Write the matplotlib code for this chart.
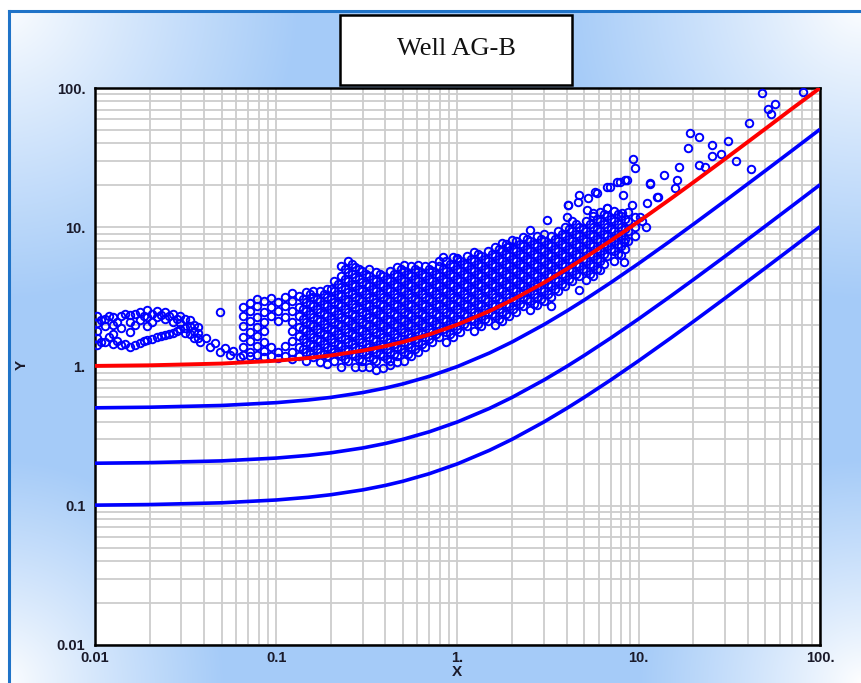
import numpy as np
import matplotlib
matplotlib.use("Agg")
import matplotlib.pyplot as plt
from matplotlib.patches import Rectangle
from matplotlib.lines import Line2D
from matplotlib.ticker import LogLocator, FixedLocator, FixedFormatter, NullFormatter

# ---------------- data ----------------
title = "Well AG-B"
x_label = "X"
y_label = "Y"
tick_values = [0.01, 0.1, 1, 10, 100]
tick_labels = ["0.01", "0.1", "1.", "10.", "100."]

# model curves
curve_x = [0.01, 0.02, 0.05, 0.1, 0.15, 0.2, 0.3, 0.4, 0.5, 0.7, 1, 1.5, 2, 3, 4, 5, 7, 10,
           15, 20, 30, 50, 70, 100]
red_y = [1.01, 1.02, 1.05, 1.1, 1.15, 1.2, 1.3, 1.4, 1.5, 1.7, 2.0, 2.5, 3.0, 4.0, 5.0, 6.0,
         8.0, 11, 16, 21, 31, 51, 71, 100]
blue1_y = [0.505, 0.51, 0.525, 0.55, 0.575, 0.6, 0.65, 0.7, 0.75, 0.85, 1.0, 1.25, 1.5, 2.0,
           2.5, 3.0, 4.0, 5.5, 8.0, 10.5, 15.5, 25.5, 35.5, 50.5]
blue2_y = [0.202, 0.204, 0.21, 0.22, 0.23, 0.24, 0.26, 0.28, 0.3, 0.34, 0.4, 0.5, 0.6, 0.8,
           1.0, 1.2, 1.6, 2.2, 3.2, 4.2, 6.2, 10.2, 14.2, 20.2]
blue3_y = [0.101, 0.102, 0.105, 0.11, 0.115, 0.12, 0.13, 0.14, 0.15, 0.17, 0.2, 0.25, 0.3,
           0.4, 0.5, 0.6, 0.8, 1.1, 1.6, 2.1, 3.1, 5.1, 7.1, 10.1]

# left wavy bands of points (x column -> y values)
left_x = [0.0103, 0.0108, 0.0114, 0.0120, 0.0126, 0.0132, 0.0139, 0.0147, 0.0156, 0.0166,
          0.0177, 0.0186, 0.0194, 0.0207, 0.0220, 0.0231, 0.0243, 0.0256, 0.0270, 0.0282,
          0.0294, 0.0314, 0.0334, 0.0352, 0.0370]
left_y = [
    [2.3, 2.05, 1.8, 1.6, 1.42],
    [2.15, 1.5],
    [2.2, 1.95, 1.5],
    [2.3, 1.62],
    [2.25, 2.0, 1.7, 1.45],
    [2.1, 1.52],
    [2.3, 1.9, 1.43],
    [2.4, 1.45],
    [2.35, 2.1, 1.78, 1.38],
    [2.4, 2.0, 1.42],
    [2.45, 2.15, 1.48],
    [2.3, 1.52],
    [2.55, 2.25, 1.95, 1.55],
    [2.4, 2.1, 1.58],
    [2.5, 2.25, 1.62],
    [2.35, 1.65],
    [2.45, 2.2, 1.68],
    [2.3, 1.7],
    [2.4, 2.1, 1.75],
    [2.2, 1.8],
    [2.3, 2.05, 1.85],
    [2.2, 1.9, 1.75],
    [2.15, 1.95, 1.7],
    [2.0, 1.8, 1.6],
    [1.92, 1.6],
]

# descending tail and points along the red curve
tail_x = [0.0379, 0.043, 0.0489, 0.0556, 0.0632, 0.037, 0.041, 0.046, 0.052, 0.058, 0.0489,
          0.0656, 0.0717, 0.0784, 0.0857, 0.0936, 0.1023, 0.1119, 0.1223]
tail_y = [1.5, 1.38, 1.27, 1.21, 1.17, 1.75, 1.6, 1.48, 1.36, 1.3, 2.46,
          1.2, 1.18, 1.2, 1.17, 1.19, 1.16, 1.18, 1.14]

# main cloud (x column -> y values)
main_x = [0.0656, 0.0717, 0.0784, 0.0857, 0.0936, 0.1023, 0.1119, 0.1223, 0.1336, 0.1461,
          0.1597, 0.1745, 0.1907, 0.2085, 0.2279, 0.2491, 0.2722, 0.2976, 0.3252, 0.3555,
          0.3886, 0.4247, 0.4642, 0.5074, 0.5546, 0.6061, 0.6625, 0.7241, 0.7915, 0.8651,
          0.9456, 1.0335, 1.1296, 1.2347, 1.3495, 1.475, 1.612, 1.762, 1.926, 2.105,
          2.301, 2.515, 2.749, 3.005, 3.284, 3.590, 3.924, 4.289, 4.688, 5.124,
          5.600, 6.121, 6.690, 7.313, 7.993, 8.736, 9.549, 10.44]
main_y = [
    [1.39, 1.62, 1.95, 2.3, 2.68],
    [1.28, 1.52, 1.77, 2.12, 2.5, 2.85],
    [1.4, 1.65, 1.93, 2.27, 2.72, 3.05],
    [1.29, 1.5, 1.79, 2.1, 2.47, 2.95],
    [1.38, 2.3, 2.68, 3.1],
    [1.27, 2.12, 2.5, 2.92],
    [1.4, 2.28, 2.71, 3.15],
    [1.28, 1.52, 1.8, 2.1, 2.49, 2.93, 3.35],
    [1.18, 1.39, 1.65, 1.93, 2.3, 2.69, 3.2],
    [1.09, 1.28, 1.5, 1.79, 2.1, 2.5, 2.92, 3.45],
    [1.17, 1.4, 1.63, 1.95, 2.28, 2.7, 3.17, 3.5],
    [1.08, 1.28, 1.52, 1.77, 2.12, 2.47, 2.94, 3.46],
    [1.04, 1.18, 1.39, 1.65, 1.93, 2.29, 2.71, 3.18, 3.6],
    [1.09, 1.27, 1.51, 1.79, 2.1, 2.49, 2.92, 3.47, 4.1],
    [1.0, 1.18, 1.4, 1.63, 1.95, 2.28, 2.7, 3.19, 3.75, 4.45, 5.25],
    [1.09, 1.29, 1.5, 1.78, 2.11, 2.48, 2.94, 3.45, 4.08, 4.8, 5.7],
    [1.0, 1.18, 1.38, 1.65, 1.94, 2.3, 2.69, 3.18, 3.77, 4.42, 5.2],
    [0.99, 1.09, 1.28, 1.51, 1.79, 2.1, 2.48, 2.93, 3.47, 4.07, 4.85],
    [1.0, 1.17, 1.39, 1.64, 1.95, 2.28, 2.7, 3.17, 3.76, 4.43, 5.0],
    [0.95, 1.09, 1.28, 1.52, 1.78, 2.11, 2.49, 2.92, 3.46, 4.1, 4.8],
    [0.97, 1.18, 1.4, 1.64, 1.94, 2.29, 2.7, 3.18, 3.76, 4.43],
    [1.02, 1.09, 1.28, 1.51, 1.79, 2.11, 2.48, 2.93, 3.46, 4.08, 4.85],
    [1.08, 1.18, 1.39, 1.64, 1.94, 2.29, 2.7, 3.18, 3.76, 4.43, 5.2],
    [1.1, 1.28, 1.51, 1.78, 2.11, 2.48, 2.93, 3.46, 4.08, 4.82, 5.4],
    [1.18, 1.39, 1.64, 1.94, 2.29, 2.7, 3.18, 3.76, 4.43, 5.23],
    [1.28, 1.51, 1.78, 2.11, 2.48, 2.93, 3.46, 4.08, 4.82, 5.4],
    [1.39, 1.64, 1.94, 2.29, 2.7, 3.18, 3.76, 4.43, 5.23],
    [1.5, 1.78, 2.11, 2.48, 2.93, 3.46, 4.08, 4.82, 5.4],
    [1.64, 1.94, 2.29, 2.7, 3.18, 3.76, 4.43, 5.23, 5.7],
    [1.51, 1.78, 2.11, 2.48, 2.93, 3.46, 4.08, 4.82, 5.68],
    [1.64, 1.94, 2.29, 2.7, 3.18, 3.76, 4.43, 5.23, 6.1],
    [1.78, 2.11, 2.48, 2.93, 3.46, 4.08, 4.82, 5.68],
    [1.94, 2.29, 2.7, 3.18, 3.76, 4.43, 5.23, 6.17],
    [1.8, 2.11, 2.48, 2.93, 3.46, 4.08, 4.82, 5.68, 6.6],
    [1.94, 2.29, 2.7, 3.18, 3.76, 4.43, 5.23, 6.17],
    [2.11, 2.48, 2.93, 3.46, 4.08, 4.82, 5.68, 6.71],
    [1.98, 2.29, 2.7, 3.18, 3.76, 4.43, 5.23, 6.17, 7.2],
    [2.11, 2.48, 2.93, 3.46, 4.08, 4.82, 5.68, 6.71, 7.7],
    [2.29, 2.7, 3.18, 3.76, 4.43, 5.23, 6.17, 7.28],
    [2.48, 2.93, 3.46, 4.08, 4.82, 5.68, 6.71, 7.91],
    [2.7, 3.18, 3.76, 4.43, 5.23, 6.17, 7.28, 8.5],
    [2.55, 2.93, 3.46, 4.08, 4.82, 5.68, 6.71, 7.91],
    [2.75, 3.18, 3.76, 4.43, 5.23, 6.17, 7.28, 8.6],
    [2.93, 3.46, 4.08, 4.82, 5.68, 6.71, 7.91, 8.9],
    [3.18, 3.76, 4.43, 5.23, 6.17, 7.28, 8.6],
    [3.46, 4.08, 4.82, 5.68, 6.71, 7.91, 9.34],
    [3.8, 4.43, 5.23, 6.17, 7.28, 8.6, 10.1],
    [4.08, 4.82, 5.68, 6.71, 7.91, 9.34, 11.0],
    [4.43, 5.23, 6.17, 7.28, 8.6, 10.1],
    [4.2, 4.82, 5.68, 6.71, 7.91, 9.34, 11.0],
    [4.5, 5.23, 6.17, 7.28, 8.6, 10.1, 12.0],
    [4.9, 5.68, 6.71, 7.91, 9.34, 11.0, 12.8],
    [6.17, 7.28, 8.6, 10.1, 12.0],
    [5.7, 6.71, 7.91, 9.34, 11.0, 13.0],
    [6.3, 7.28, 8.6, 10.1, 12.0],
    [7.91, 9.34, 11.0, 12.8],
    [8.6, 10.1, 11.9],
    [11.0],
]

# dense core of the cloud (its own x columns, between those of main_x)
core_x = [0.1397, 0.1527, 0.1670, 0.1824, 0.1994, 0.2180, 0.2383, 0.2604, 0.2846, 0.3111,
          0.3400, 0.3717, 0.4063, 0.4440, 0.4853, 0.5305, 0.5798, 0.6337, 0.6926, 0.7570,
          0.8275, 0.9045, 0.9886, 1.0805, 1.181, 1.291, 1.411, 1.542, 1.685, 1.842,
          2.014, 2.201, 2.406, 2.629, 2.874, 3.142, 3.433, 3.753, 4.103, 4.484,
          4.901, 5.357, 5.855, 6.400, 6.994, 7.646, 8.357]
core_y = [
    [1.33, 1.57, 1.86, 2.20, 2.58, 3.05],
    [1.23, 1.45, 1.71, 2.02, 2.39, 2.81, 3.31],
    [1.33, 1.57, 1.86, 2.20, 2.58, 3.05],
    [1.23, 1.45, 1.71, 2.02, 2.39, 2.81, 3.31],
    [1.33, 1.57, 1.86, 2.20, 2.58, 3.05, 3.61],
    [1.23, 1.45, 1.71, 2.02, 2.39, 2.81, 3.31, 3.92],
    [1.14, 1.33, 1.57, 1.86, 2.20, 2.58, 3.05, 3.61, 4.25, 5.02],
    [1.23, 1.45, 1.71, 2.02, 2.39, 2.81, 3.31, 3.92, 4.62, 5.45],
    [1.14, 1.33, 1.57, 1.86, 2.20, 2.58, 3.05, 3.61, 4.25, 5.02],
    [1.23, 1.45, 1.71, 2.02, 2.39, 2.81, 3.31, 3.92, 4.62],
    [1.14, 1.33, 1.57, 1.86, 2.20, 2.58, 3.05, 3.61, 4.25],
    [1.23, 1.45, 1.71, 2.02, 2.39, 2.81, 3.31, 3.92, 4.62],
    [1.14, 1.33, 1.57, 1.86, 2.20, 2.58, 3.05, 3.61, 4.25],
    [1.23, 1.45, 1.71, 2.02, 2.39, 2.81, 3.31, 3.92, 4.62],
    [1.33, 1.57, 1.86, 2.20, 2.58, 3.05, 3.61, 4.25, 5.02],
    [1.23, 1.45, 1.71, 2.02, 2.39, 2.81, 3.31, 3.92, 4.62],
    [1.33, 1.57, 1.86, 2.20, 2.58, 3.05, 3.61, 4.25, 5.02],
    [1.45, 1.71, 2.02, 2.39, 2.81, 3.31, 3.92, 4.62],
    [1.57, 1.86, 2.20, 2.58, 3.05, 3.61, 4.25, 5.02],
    [1.71, 2.02, 2.39, 2.81, 3.31, 3.92, 4.62],
    [1.86, 2.20, 2.58, 3.05, 3.61, 4.25, 5.02],
    [1.71, 2.02, 2.39, 2.81, 3.31, 3.92, 4.62, 5.45],
    [1.86, 2.20, 2.58, 3.05, 3.61, 4.25, 5.02, 5.92],
    [2.02, 2.39, 2.81, 3.31, 3.92, 4.62, 5.45],
    [2.20, 2.58, 3.05, 3.61, 4.25, 5.02, 5.92],
    [2.02, 2.39, 2.81, 3.31, 3.92, 4.62, 5.45, 6.43],
    [2.20, 2.58, 3.05, 3.61, 4.25, 5.02, 5.92],
    [2.39, 2.81, 3.31, 3.92, 4.62, 5.45, 6.43],
    [2.20, 2.58, 3.05, 3.61, 4.25, 5.02, 5.92, 6.99],
    [2.39, 2.81, 3.31, 3.92, 4.62, 5.45, 6.43, 7.59],
    [2.58, 3.05, 3.61, 4.25, 5.02, 5.92, 6.99],
    [2.81, 3.31, 3.92, 4.62, 5.45, 6.43, 7.59],
    [3.05, 3.61, 4.25, 5.02, 5.92, 6.99, 8.24],
    [2.81, 3.31, 3.92, 4.62, 5.45, 6.43, 7.59],
    [3.05, 3.61, 4.25, 5.02, 5.92, 6.99, 8.24],
    [3.31, 3.92, 4.62, 5.45, 6.43, 7.59],
    [3.61, 4.25, 5.02, 5.92, 6.99, 8.24],
    [3.92, 4.62, 5.45, 6.43, 7.59, 8.96],
    [4.25, 5.02, 5.92, 6.99, 8.24, 9.73],
    [4.62, 5.45, 6.43, 7.59, 8.96, 10.5],
    [5.02, 5.92, 6.99, 8.24, 9.73],
    [4.62, 5.45, 6.43, 7.59, 8.96, 10.5],
    [5.02, 5.92, 6.99, 8.24, 9.73, 11.5],
    [5.45, 6.43, 7.59, 8.96, 10.5, 12.5],
    [6.99, 8.24, 9.73, 11.5],
    [6.43, 7.59, 8.96, 10.5, 12.5],
    [6.99, 8.24, 9.73, 11.5],
]

# sparse points above / right of the cloud
sparse_x = [0.83, 1.0, 1.87, 2.0, 2.5, 3.1, 4.0, 4.08, 4.64, 5.26, 5.88, 6.7, 7.6, 8.35, 9.3, 9.55,
            11.5, 12.6, 6.7, 8.2, 5.2, 4.7, 5.7, 6.9, 7.9, 8.6, 13.8, 16.6, 11.5, 16.3, 15.8, 12.8,
            9.2, 8.1, 11.1, 10.1, 8.3, 8.3, 4.7, 11.0, 6.7, 5.6, 4.05, 3.3,
            47.9, 80.5, 56.5, 51.6, 54.0, 40.5, 19.2, 21.5, 18.7, 25.3, 31.0, 25.3, 28.3, 34.4,
            41.7, 21.5, 23.2]
sparse_y = [6.1, 6.0, 7.2, 8.1, 9.55, 11.3, 11.8, 14.4, 15.2, 16.2, 17.6, 19.5, 21.1, 21.8, 31.0, 26.6,
            20.8, 16.5, 13.7, 17.0, 13.3, 17.1, 18.0, 19.5, 21.2, 21.9, 23.7, 27.0, 20.5, 21.9, 19.2, 16.5,
            14.5, 12.6, 14.9, 11.8, 7.8, 5.6, 3.55, 10.0, 13.7, 12.6, 14.5, 2.7,
            92.0, 93.0, 76.7, 70.6, 65.0, 56.0, 47.5, 44.5, 37.0, 39.0, 41.7, 32.5, 33.6, 29.9,
            26.2, 28.0, 27.0]

# ---------------- figure ----------------
W, H = 862, 683
fig = plt.figure(figsize=(W / 100, H / 100), dpi=100)

# gradient background
bg = fig.add_axes([0, 0, 1, 1], zorder=-10)
yy, xx = np.mgrid[0:H, 0:W].astype(float)
d = np.min([np.hypot(xx - 0, yy - 0) / 1.0,
            np.hypot(xx - W, yy - 0) / 1.0,
            np.hypot(xx - 0, yy - H) / 0.75,
            np.hypot(xx - W, yy - H) / 0.75], axis=0)
t = np.clip(d / 300.0, 0, 1) ** 0.9
white = np.array([1.0, 1.0, 1.0])
blue = np.array([165, 203, 248]) / 255.0
img = white[None, None, :] * (1 - t[..., None]) + blue[None, None, :] * t[..., None]
img[:10, :, :] = 1.0
img[:, :8, :] = 1.0
bg.imshow(img, extent=[0, W, H, 0], aspect="auto", interpolation="bilinear")
bg.set_xlim(0, W)
bg.set_ylim(H, 0)
bg.axis("off")

# blue frame line
frame_col = "#1f73c8"
fig.add_artist(Line2D([9.5 / W, 9.5 / W], [0, 1 - 11 / H], transform=fig.transFigure,
                      color=frame_col, lw=2.2))
fig.add_artist(Line2D([9.5 / W, 1], [1 - 11 / H, 1 - 11 / H], transform=fig.transFigure,
                      color=frame_col, lw=2.2))

# main axes
ax = fig.add_axes([95 / W, 1 - 645 / H, (820 - 95) / W, (645 - 88) / H])
ax.set_facecolor("white")
ax.set_xscale("log")
ax.set_yscale("log")
ax.set_xlim(0.01, 100)
ax.set_ylim(0.01, 100)

for axis in (ax.xaxis, ax.yaxis):
    axis.set_major_locator(FixedLocator(tick_values))
    axis.set_major_formatter(FixedFormatter(tick_labels))
    axis.set_minor_locator(LogLocator(base=10, subs=np.arange(2, 10)))
    axis.set_minor_formatter(NullFormatter())

ax.grid(True, which="both", color="#cdcdcd", lw=1.3)
ax.set_axisbelow(True)
ax.tick_params(which="both", length=0)
ax.tick_params(axis="x", pad=4.5)
ax.tick_params(axis="y", pad=7)
for lab in ax.get_xticklabels() + ax.get_yticklabels():
    lab.set_fontfamily("Liberation Sans")
    lab.set_fontweight("bold")
    lab.set_fontsize(10.5)
    lab.set_color("#1a1a2a")
for sp in ax.spines.values():
    sp.set_linewidth(1.8)
    sp.set_color("black")

# scatter points
pts_x, pts_y = [], []
for cx, ys in zip(left_x, left_y):
    pts_x += [cx] * len(ys)
    pts_y += ys
pts_x += tail_x
pts_y += tail_y
for cx, ys in zip(main_x, main_y):
    pts_x += [cx] * len(ys)
    pts_y += ys
for cx, ys in zip(core_x, core_y):
    pts_x += [cx] * len(ys)
    pts_y += ys
pts_x += sparse_x
pts_y += sparse_y
ax.plot(pts_x, pts_y, ls="none", marker="o", ms=5.4, mfc="none", mec="#0000ff",
        mew=1.4, zorder=3)

# curves
for yv in (blue1_y, blue2_y, blue3_y):
    ax.plot(curve_x, yv, color="#0000ff", lw=2.6, zorder=4, solid_capstyle="butt")
ax.plot(curve_x, red_y, color="#ff0000", lw=2.8, zorder=5, solid_capstyle="butt")

# axis labels
fig.text(457 / W, 1 - 672 / H, x_label, ha="center", va="center", fontfamily="Liberation Sans",
         fontweight="bold", fontsize=11, color="#1a1a2a")
fig.text(22 / W, 1 - 365 / H, y_label, ha="center", va="center", rotation=90,
         fontfamily="Liberation Sans", fontweight="bold", fontsize=11, color="#1a1a2a")

# title box
fig.add_artist(Rectangle((340 / W, 1 - 85 / H), 232 / W, 70 / H, transform=fig.transFigure,
                         facecolor="white", edgecolor="black", lw=1.8, zorder=5))
fig.text(456 / W, 1 - 49 / H, title, ha="center", va="center", fontfamily="Liberation Serif",
         fontsize=19, color="#111111", zorder=6)

fig.savefig("out.png", dpi=100)
